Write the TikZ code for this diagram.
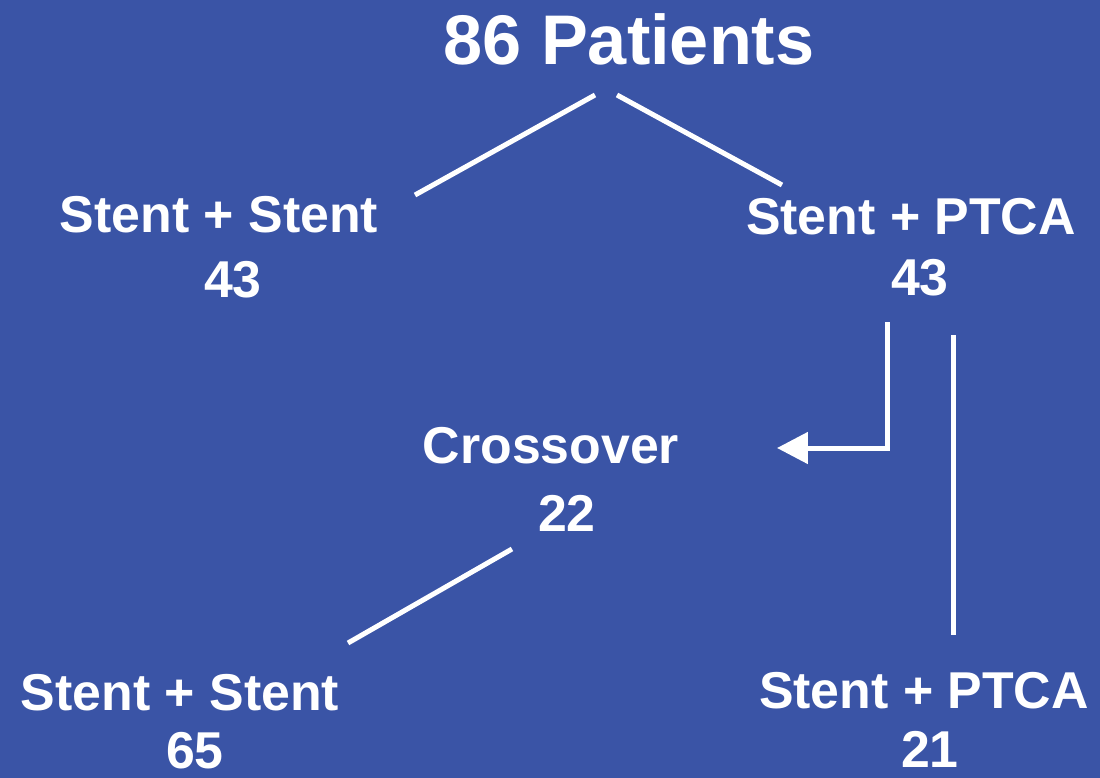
\documentclass[tikz,border=0pt]{standalone}
\usepackage{fontspec}
\setmainfont{Liberation Sans}
\usetikzlibrary{arrows.meta}
\definecolor{folie}{RGB}{58,84,166}
\tikzset{
  gruppe/.style={text=white,font=\bfseries\fontsize{29.5}{35}\selectfont,anchor=base,inner sep=0pt},
  titel/.style={gruppe,font=\bfseries\fontsize{40}{48}\selectfont},
  linie/.style={draw=white,line width=0.1cm}
}
\begin{document}
\begin{tikzpicture}[x=0.02cm,y=-0.02cm]
	\fill[folie] (0,0) rectangle (1100,778);
	% Titel
	\node[titel] (pat) at (629,64) {86 Patients};
	% erste Ebene
	\node[gruppe] (ssA) at (219,232) {Stent + Stent};
	\node[gruppe] (ssAn) at (233,297) {43};
	\node[gruppe] (spA) at (911,234) {Stent + PTCA};
	\node[gruppe] (spAn) at (920,295) {43};
	% Crossover
	\node[gruppe] (cross) at (551,463) {Crossover};
	\node[gruppe] (crossn) at (567,531) {22};
	% Endstand
	\node[gruppe] (ssB) at (180,710) {Stent + Stent};
	\node[gruppe] (ssBn) at (195,768) {65};
	\node[gruppe] (spB) at (924,708) {Stent + PTCA};
	\node[gruppe] (spBn) at (930,767) {21};
	% Endpunkte der Linien
	\coordinate (patL) at (595,95);
	\coordinate (patR) at (617,95);
	\coordinate (ssAo) at (415,195);
	\coordinate (spAo) at (782,185);
	\coordinate (spAu) at (887,322);
	\coordinate (knick) at (887,448);
	\coordinate (crossr) at (777,448);
	\coordinate (spAu2) at (953,335);
	\coordinate (spBo) at (953,635);
	\coordinate (crossu) at (512,549);
	\coordinate (ssBo) at (348,643);
	\draw[linie] (patL) -- (ssAo);
	\draw[linie] (patR) -- (spAo);
	\draw[linie,line join=miter,-{Triangle[length=0.62cm,width=0.62cm]}] (spAu) -- (knick) -- (crossr);
	\draw[linie] (spAu2) -- (spBo);
	\draw[linie] (crossu) -- (ssBo);
\end{tikzpicture}
\end{document}
